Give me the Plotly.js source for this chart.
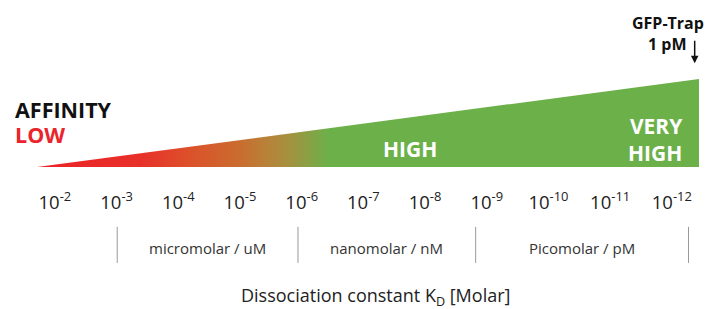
<!DOCTYPE html>
<html>
<head>
<meta charset="utf-8">
<script src="https://cdn.plot.ly/plotly-3.0.1.min.js"></script>
<style>html,body{margin:0;padding:0;background:#fff}#chart{width:721px;height:309px}</style>
</head>
<body>
<div id="chart"></div>
<script>
// Exponents of the dissociation constant KD (10^x Molar)
const tickExponents = [-2, -3, -4, -5, -6, -7, -8, -9, -10, -11, -12];
const tickLabels = tickExponents.map(e => '10<sup>' + e + '</sup>');
// Affinity wedge: from low affinity (left) to very high affinity (right)
const wedgeExp = [-1.71, -12.44];
const wedgeAffinity = [0, 1];
const gradientGreenAt = -6.43;
// Range boundaries (exponents) and range names
const rangeBounds = [-3.01, -5.94, -8.82, -12.27];
const rangeNames = ['micromolar / uM', 'nanomolar / nM', 'Picomolar / pM'];
const gfpTrapKD = -12.37;

const FONT = '"Open Sans", "Noto Sans", sans-serif';

const trace = {
  type: 'scatter', mode: 'lines',
  x: [wedgeExp[0], wedgeExp[1], wedgeExp[1], wedgeExp[0]],
  y: [wedgeAffinity[0], wedgeAffinity[1], wedgeAffinity[0], wedgeAffinity[0]],
  fill: 'toself',
  line: {width: 0, color: 'rgba(0,0,0,0)'},
  fillgradient: {
    type: 'horizontal',
    start: gradientGreenAt,
    stop: wedgeExp[0],
    colorscale: [
      [0, '#6cb04a'],
      [0.062, '#86a244'],
      [0.131, '#a3923f'],
      [0.199, '#b5843a'],
      [0.302, '#c96d2f'],
      [0.474, '#dc512a'],
      [0.646, '#e8302a'],
      [1, '#ec2227']
    ]
  },
  hoverinfo: 'skip', showlegend: false
};

const shapes = rangeBounds.map(b => ({
  type: 'line', xref: 'x', yref: 'paper',
  x0: b, x1: b, y0: -0.68, y1: -1.09,
  line: {color: '#9a9a9a', width: 1}
}));

const annotations = [];
for (let i = 0; i < rangeNames.length; i++) {
  annotations.push({
    xref: 'x', yref: 'paper',
    x: (rangeBounds[i] + rangeBounds[i + 1]) / 2, y: -0.925,
    xanchor: 'center', yanchor: 'middle',
    text: rangeNames[i], showarrow: false,
    font: {family: FONT, size: 15, color: '#333'}
  });
}
annotations.push(
  {xref: 'paper', yref: 'paper', x: -0.036, y: 0.66, xanchor: 'left', yanchor: 'middle', height: 24,
   text: '<b>AFFINITY</b>', showarrow: false, font: {family: FONT, size: 21.5, color: '#111'}},
  {xref: 'paper', yref: 'paper', x: -0.036, y: 0.375, xanchor: 'left', yanchor: 'middle', height: 24,
   text: '<b>LOW</b>', showarrow: false, font: {family: FONT, size: 21.5, color: '#ea242b'}},
  {xref: 'paper', yref: 'paper', x: 0.563, y: 0.2, xanchor: 'center', yanchor: 'middle',
   text: '<b>HIGH</b>', showarrow: false, font: {family: FONT, size: 21, color: '#ffffff'}},
  {xref: 'paper', yref: 'paper', x: 0.979, y: 0.315, xanchor: 'right', yanchor: 'middle', align: 'right',
   text: '<b>VERY<br>HIGH</b>', showarrow: false, font: {family: FONT, size: 21, color: '#ffffff'}},
  {xref: 'paper', yref: 'paper', x: 1.011, y: 1.636, xanchor: 'right', yanchor: 'middle',
   text: '<b>GFP-Trap</b>', showarrow: false, font: {family: FONT, size: 16, color: '#111'}},
  {xref: 'paper', yref: 'paper', x: 0.985, y: 1.40, xanchor: 'right', yanchor: 'middle',
   text: '<b>1 pM</b>', showarrow: false, font: {family: FONT, size: 16, color: '#111'}},
  {xref: 'x', yref: 'paper', x: gfpTrapKD, y: 1.18,
   ax: 0, ay: -24, text: '', showarrow: true, arrowhead: 2, arrowsize: 1, arrowwidth: 1.5, arrowcolor: '#111'},
  {xref: 'paper', yref: 'paper', x: 0.511, y: -1.475, xanchor: 'center', yanchor: 'middle',
   text: 'Dissociation constant K<sub>D</sub> [Molar]', showarrow: false,
   font: {family: FONT, size: 18, color: '#222'}}
);

const layout = {
  width: 721, height: 309,
  margin: {l: 37, r: 22, t: 79, b: 142},
  paper_bgcolor: '#fff', plot_bgcolor: '#fff',
  xaxis: {
    range: [wedgeExp[0], wedgeExp[1]],
    tickvals: tickExponents, ticktext: tickLabels,
    showgrid: false, zeroline: false, showline: false,
    ticks: 'outside', ticklen: 19, tickcolor: 'rgba(0,0,0,0)',
    tickfont: {family: FONT, size: 18.5, color: '#222'},
    automargin: false, fixedrange: true
  },
  yaxis: {range: [0, 1], visible: false, fixedrange: true},
  shapes: shapes,
  annotations: annotations,
  showlegend: false
};

Plotly.newPlot('chart', [trace], layout, {displayModeBar: false, staticPlot: true});
</script>
</body>
</html>
